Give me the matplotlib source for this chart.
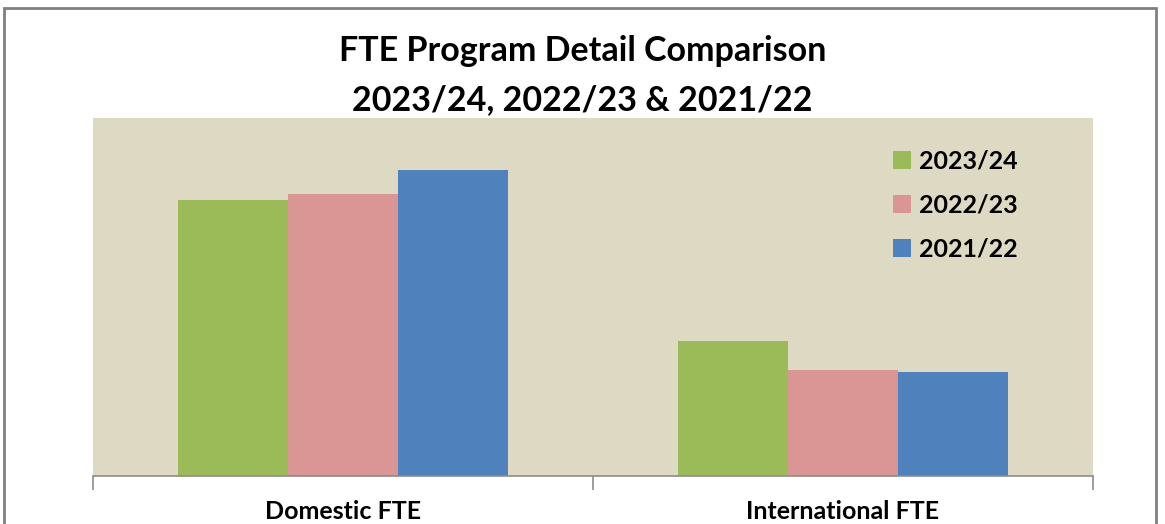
import numpy as np
import matplotlib.pyplot as plt
from matplotlib.patches import Rectangle

categories = ['Domestic FTE', 'International FTE']
years = ['2023/24', '2022/23', '2021/22']
fte_2023_24 = [2760, 1350]
fte_2022_23 = [2820, 1060]
fte_2021_22 = [3060, 1040]
colors = ['#9bbb59', '#d99694', '#4f81bd']

plt.rcParams['font.family'] = ['Lato', 'DejaVu Sans']

fig = plt.figure(figsize=(11.65, 5.24), dpi=100)
ax = fig.add_axes([93 / 1165, 1 - 476 / 524, 1000 / 1165, 358 / 524])

# outer chart border
fig.patches.append(Rectangle((4 / 1165, -0.1), 1152 / 1165, 1.1 - 8 / 524,
                             transform=fig.transFigure, fill=False,
                             edgecolor='#808080', linewidth=2))

x = np.arange(len(categories))
w = 0.22
series = [fte_2023_24, fte_2022_23, fte_2021_22]
for i, (vals, lab, c) in enumerate(zip(series, years, colors)):
    ax.bar(x + (i - 1) * w, vals, w, color=c, label=lab)

ax.set_facecolor('#ddd9c3')
ax.set_xlim(-0.5, 1.5)
ax.set_ylim(0, 3580)
ax.set_yticks([])
for s in ['top', 'right', 'left']:
    ax.spines[s].set_visible(False)
ax.spines['bottom'].set_color('#8c8c8c')
ax.spines['bottom'].set_linewidth(1.2)

ax.set_xticks([-0.5, 0.5, 1.5])
ax.set_xticklabels([])
ax.tick_params(axis='x', length=10, color='#8c8c8c', width=1.2)
for xi, cat in zip(x, categories):
    ax.text(xi, -0.098, cat, transform=ax.get_xaxis_transform(),
            ha='center', va='center', fontsize=18, fontweight='bold')

fig.text(0.5, 1 - 51 / 524, 'FTE Program Detail Comparison', ha='center',
         va='center', fontsize=24.5, fontweight='bold')
fig.text(0.5, 1 - 100 / 524, '2023/24, 2022/23 & 2021/22', ha='center',
         va='center', fontsize=24.5, fontweight='bold')

leg = ax.legend(loc='upper left', bbox_to_anchor=(0.777, 0.975), frameon=False,
                prop={'weight': 'bold', 'size': 18}, handlelength=0.75,
                handleheight=0.75, handletextpad=0.3, labelspacing=0.85)

fig.savefig('out.png', dpi=100)
